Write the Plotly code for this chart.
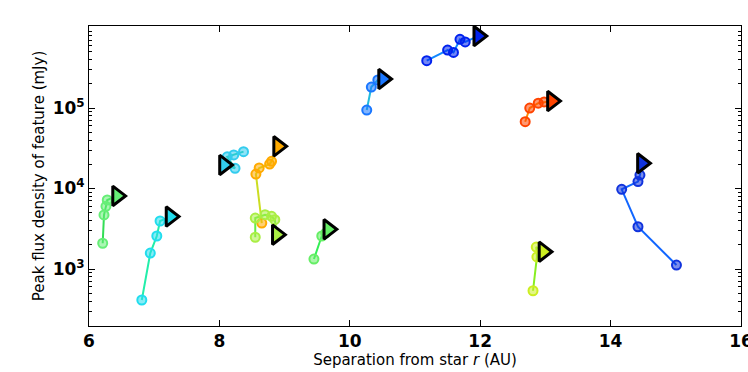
import plotly.graph_objects as go

# each feature track: separations (AU) and peak flux (mJy); last point is the latest epoch (triangle)
feat_a_x = [6.21, 6.23, 6.26, 6.28, 6.43]
feat_a_y = [2090, 4700, 6000, 7200, 8100]

feat_b_x = [6.81, 6.94, 7.04, 7.09, 7.25]
feat_b_y = [412, 1580, 2570, 3950, 4480]

feat_c_x = [8.37, 8.22, 8.12, 8.24, 8.07]
feat_c_y = [28700, 26100, 24800, 17800, 19600]

feat_d_x = [8.65, 8.56, 8.61, 8.77, 8.80, 8.90]
feat_d_y = [3720, 15100, 18000, 20100, 21800, 33400]

feat_e_x = [8.55, 8.55, 8.70, 8.80, 8.85, 8.88]
feat_e_y = [2480, 4300, 4730, 4520, 4100, 2670]

feat_f_x = [9.45, 9.57, 9.63, 9.67]
feat_f_y = [1330, 2570, 2800, 3110]

feat_g_x = [10.26, 10.33, 10.43, 10.51]
feat_g_y = [94400, 182000, 223000, 229000]

feat_h_x = [11.18, 11.50, 11.59, 11.69, 11.77, 11.97]
feat_h_y = [387000, 525000, 490000, 713000, 663000, 783000]

feat_i_x = [12.69, 12.76, 12.89, 12.98, 13.10]
feat_i_y = [67600, 100000, 115000, 119000, 122000]

feat_j_x = [12.81, 12.87, 12.86, 12.97]
feat_j_y = [537, 1415, 1875, 1640]

feat_k_x = [15.01, 14.42, 14.17, 14.42, 14.45, 14.48]
feat_k_y = [1120, 3350, 9770, 12200, 14700, 20600]

x_ticks = [6, 8, 10, 12, 14, 16]
y_ticks = [1e3, 1e4, 1e5]
y_ticktext = ["10<sup>3</sup>", "10<sup>4</sup>", "10<sup>5</sup>"]
y_minor = [m * 10 ** e for e in range(2, 6) for m in range(2, 10)]

# (x, y, marker colour, line colour)
tracks = [
    (feat_a_x, feat_a_y, "#66ee77", "#33dd55"),
    (feat_b_x, feat_b_y, "#22ddee", "#22eeaa"),
    (feat_c_x, feat_c_y, "#33ccee", "#22ccaa"),
    (feat_d_x, feat_d_y, "#ffaa00", "#ccdd22"),
    (feat_e_x, feat_e_y, "#aaee44", "#66ee44"),
    (feat_f_x, feat_f_y, "#66ee66", "#33ee55"),
    (feat_g_x, feat_g_y, "#1a77ff", "#22bbdd"),
    (feat_h_x, feat_h_y, "#0022ee", "#1188ff"),
    (feat_i_x, feat_i_y, "#ff4400", "#ff8800"),
    (feat_j_x, feat_j_y, "#ccee22", "#88ee22"),
    (feat_k_x, feat_k_y, "#1133dd", "#1166ff"),
]


def rgba(hex_col, a):
    h = hex_col.lstrip("#")
    r, g, b = int(h[0:2], 16), int(h[2:4], 16), int(h[4:6], 16)
    return f"rgba({r},{g},{b},{a})"


fig = go.Figure()
for xs, ys, mcol, lcol in tracks:
    fig.add_trace(go.Scatter(
        x=xs, y=ys, mode="lines",
        line=dict(color=lcol, width=2), hoverinfo="skip",
    ))
    fig.add_trace(go.Scatter(
        x=xs[:-1], y=ys[:-1], mode="markers",
        marker=dict(symbol="circle", size=9, color=rgba(mcol, 0.55),
                    line=dict(color=mcol, width=2)),
    ))
    fig.add_trace(go.Scatter(
        x=xs[-1:], y=ys[-1:], mode="markers",
        marker=dict(symbol="triangle-right", size=17, color=mcol,
                    line=dict(color="black", width=3)),
    ))

tick_font = dict(family="DejaVu Sans", size=17, color="black", weight="bold")
title_font = dict(family="DejaVu Sans", size=15, color="black")
fig.update_layout(
    width=748, height=372,
    margin=dict(l=89, r=7, t=26, b=46),
    paper_bgcolor="white", plot_bgcolor="white",
    showlegend=False,
    font=dict(family="DejaVu Sans", color="black"),
    xaxis=dict(
        range=[6, 16], tickvals=x_ticks, automargin=False,
        ticklabeloverflow="allow",
        ticks="inside", ticklen=6, tickcolor="black",
        showline=True, linecolor="black", linewidth=1, mirror="allticks",
        showgrid=False, zeroline=False, tickfont=tick_font,
        title=dict(text="Separation from star <i>r</i> (AU)", font=title_font, standoff=2),
    ),
    yaxis=dict(
        type="log", range=[2.292, 6.019], automargin=False,
        tickvals=y_ticks, ticktext=y_ticktext,
        ticks="inside", ticklen=6, tickcolor="black",
        minor=dict(tickmode="array", tickvals=y_minor, ticks="inside",
                   ticklen=3, tickcolor="black", showgrid=False),
        showline=True, linecolor="black", linewidth=1, mirror="allticks",
        showgrid=False, zeroline=False, tickfont=tick_font,
        title=dict(text="Peak flux density of feature (mJy)", font=title_font, standoff=4),
    ),
)

# drop the page's default body margin so the figure fills the window exactly
fig.write_html(
    "out.html",
    config={"displayModeBar": False},
    post_script="document.body.style.margin='0';document.body.style.overflow='hidden';",
)
